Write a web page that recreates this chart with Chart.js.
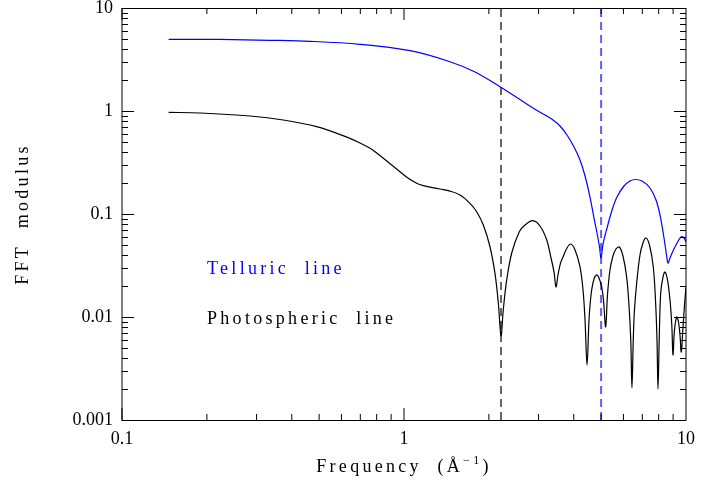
<!DOCTYPE html>
<html>
<head>
<meta charset="utf-8">
<script src="https://cdn.jsdelivr.net/npm/chart.js@4.4.1/dist/chart.umd.min.js"></script>
<style>
  html, body { margin: 0; padding: 0; background: #fff; }
  #wrap { width: 725px; height: 481px; }
</style>
</head>
<body>
<div id="wrap"><canvas id="fft" width="725" height="481"></canvas></div>
<script>
// values
const telluricFreq = [0.1464, 0.2226, 0.3347, 0.464, 0.698, 1.05, 1.456, 1.786, 2.19, 2.578,
  2.867, 3.162, 3.376, 3.574, 3.784, 4.008, 4.209, 4.385, 4.566, 4.718, 4.836, 4.935, 4.996,
  5.078, 5.248, 5.467, 5.692, 6.027, 6.329, 6.594, 6.982, 7.453, 7.828, 8.087, 8.356, 8.529,
  8.635, 8.775, 8.993, 9.292, 9.6, 9.838, 10.0];
const telluricFFT = [4.97, 4.95, 4.86, 4.75, 4.44, 3.85, 3.01, 2.39, 1.721, 1.293,
  1.069, 0.915, 0.818, 0.715, 0.585, 0.447, 0.334, 0.234, 0.146, 0.0914, 0.0654, 0.0478, 0.0374,
  0.0511, 0.0731, 0.1094, 0.146, 0.187, 0.209, 0.2163, 0.209, 0.1788, 0.1367, 0.0978, 0.0585, 0.040,
  0.0334, 0.0374, 0.0437, 0.0523, 0.0598, 0.0585, 0.0535];

const photoFreq = [0.1464, 0.189, 0.2844, 0.3733, 0.49, 0.643, 0.698, 0.758, 0.8, 0.845, 0.968,
  1.0357, 1.109, 1.171, 1.236, 1.342, 1.456, 1.58, 1.714, 1.81, 1.911, 2.018, 2.102, 2.161, 2.208,
  2.249, 2.313, 2.41, 2.564,
  2.686, 2.861, 3.036, 3.207, 3.322, 3.404, 3.459, 3.516, 3.589, 3.663, 3.784, 3.901, 4.042,
  4.209, 4.314, 4.385, 4.457, 4.529, 4.585, 4.63, 4.718, 4.823, 4.915, 5.024, 5.098, 5.19,
  5.267, 5.375, 5.508, 5.646, 5.8, 5.977, 6.16, 6.277, 6.37, 6.432, 6.501, 6.565, 6.685,
  6.868, 7.038, 7.214, 7.422, 7.656, 7.795, 7.892, 7.956, 8.035, 8.133, 8.287, 8.423, 8.597,
  8.775, 8.905, 8.993, 9.103, 9.268, 9.406, 9.521, 9.623, 9.743, 9.879, 10.0];
const photoFFT = [0.971, 0.956, 0.894, 0.818, 0.704, 0.543, 0.489, 0.4345, 0.391, 0.3473, 0.2574,
  0.222, 0.1987, 0.1883, 0.1826, 0.1748, 0.167, 0.153, 0.127, 0.1053, 0.0782, 0.0481, 0.02656, 0.01358, 0.0066,
  0.0117, 0.0229, 0.0418, 0.0673,
  0.0782, 0.0861, 0.0765, 0.0559, 0.0374, 0.0273, 0.01955, 0.0256, 0.0334, 0.0382, 0.0468, 0.0511, 0.0447,
  0.0306, 0.0183, 0.00935, 0.00342, 0.00935, 0.01462, 0.0183, 0.0234, 0.0256, 0.0239, 0.01955, 0.01462, 0.0080,
  0.01636, 0.0286, 0.0391, 0.0457, 0.0478, 0.0391, 0.0244, 0.01307, 0.00598, 0.00205, 0.00598, 0.0117, 0.0214,
  0.040, 0.0523, 0.0585, 0.050, 0.0306, 0.01462, 0.00598, 0.0020, 0.00598, 0.0171, 0.0244, 0.0273, 0.0229,
  0.01462, 0.00836, 0.00428, 0.00748, 0.0100, 0.00894, 0.00669, 0.00457, 0.00748, 0.01307, 0.01955];

const photoCutoff = 2.208;
const telluricCutoff = 5.0;

const xTickLabels = ['0.1', '1', '10'];
const yTickLabels = ['0.001', '0.01', '0.1', '1', '10'];

const FONT = 'Liberation Serif';

function pairs(xs, ys) {
  return xs.map((x, i) => ({ x: x, y: ys[i] }));
}
function vline(x) {
  return [{ x: x, y: +yTickLabels[0] }, { x: x, y: +yTickLabels[yTickLabels.length - 1] }];
}

// inward ticks on all four sides, frame, and the texts
const framePlugin = {
  id: 'frame',
  afterDraw(chart) {
    const ctx = chart.ctx;
    const a = chart.chartArea;
    const xs = chart.scales.x, ys = chart.scales.y;
    ctx.save();
    ctx.strokeStyle = '#000';
    ctx.lineWidth = 1;
    ctx.strokeRect(a.left, a.top + 0.5, a.right - a.left, a.bottom - a.top);

    ctx.beginPath();
    for (let d = xs.min; d < xs.max * 0.999; d *= 10) {
      for (let m = 1; m <= 9; m++) {
        const px = xs.getPixelForValue(m * d);
        const len = m === 1 ? 12 : 6;
        ctx.moveTo(px, a.bottom); ctx.lineTo(px, a.bottom - len);
        ctx.moveTo(px, a.top); ctx.lineTo(px, a.top + len);
      }
    }
    for (let d = ys.min; d < ys.max * 0.999; d *= 10) {
      for (let m = 1; m <= 9; m++) {
        const py = Math.round(ys.getPixelForValue(m * d)) + 0.5;
        const len = m === 1 ? 12 : 6;
        ctx.moveTo(a.left, py); ctx.lineTo(a.left + len, py);
        ctx.moveTo(a.right, py); ctx.lineTo(a.right - len, py);
      }
    }
    ctx.stroke();

    ctx.font = '18px "' + FONT + '"';
    ctx.letterSpacing = '3.3px';
    ctx.textBaseline = 'alphabetic';
    ctx.textAlign = 'left';
    ctx.fillStyle = '#0000ff';
    ctx.fillText('Telluric  line', 207, 274);
    ctx.fillStyle = '#000';
    ctx.fillText('Photospheric  line', 207, 324);

    // y title
    ctx.save();
    ctx.translate(28, 214);
    ctx.rotate(-Math.PI / 2);
    ctx.textAlign = 'center';
    ctx.fillText('FFT  modulus', 0, 0);
    ctx.restore();

    // x title with superscript
    const main = 'Frequency  (\u00c5';
    ctx.font = '18px "' + FONT + '"';
    const w1 = ctx.measureText(main).width;
    ctx.font = '12px "' + FONT + '"';
    const sup = '\u22121';
    const w2 = ctx.measureText(sup).width;
    ctx.font = '18px "' + FONT + '"';
    const w3 = ctx.measureText(')').width;
    let x0 = (a.left + a.right) / 2 - (w1 + w2 + w3) / 2;
    ctx.fillText(main, x0, 472);
    ctx.font = '12px "' + FONT + '"';
    ctx.fillText(sup, x0 + w1, 464);
    ctx.font = '18px "' + FONT + '"';
    ctx.fillText(')', x0 + w1 + w2, 472);
    ctx.restore();
  }
};

new Chart(document.getElementById('fft'), {
  type: 'line',
  data: {
    datasets: [
      {
        label: 'Telluric line',
        data: pairs(telluricFreq, telluricFFT),
        borderColor: '#0000ff',
        borderWidth: 1.2,
        pointRadius: 0,
        tension: 0.35
      },
      {
        label: 'Photospheric line',
        data: pairs(photoFreq, photoFFT),
        borderColor: '#000000',
        borderWidth: 1.2,
        pointRadius: 0,
        tension: 0.35
      },
      {
        label: 'photospheric cutoff',
        data: vline(photoCutoff),
        borderColor: '#000000',
        borderWidth: 1.2,
        borderDash: [8, 5],
        pointRadius: 0,
        tension: 0
      },
      {
        label: 'telluric cutoff',
        data: vline(telluricCutoff),
        borderColor: '#5f5fff',
        borderWidth: 2,
        borderDash: [8, 5],
        pointRadius: 0,
        tension: 0
      }
    ]
  },
  options: {
    responsive: false,
    animation: false,
    devicePixelRatio: 1,
    layout: { padding: { top: 8, right: 39, left: 0, bottom: 0 } },
    plugins: {
      legend: { display: false },
      tooltip: { enabled: false }
    },
    scales: {
      x: {
        type: 'logarithmic',
        min: +xTickLabels[0],
        max: +xTickLabels[xTickLabels.length - 1],
        afterBuildTicks: (s) => { s.ticks = xTickLabels.map(v => ({ value: +v })); },
        afterFit: (s) => { s.height = 61; s.paddingLeft = 0; s.paddingRight = 0; },
        grid: { display: false, drawTicks: false },
        border: { display: false },
        ticks: {
          callback: (v) => xTickLabels.find(t => +t === v) || '',
          color: '#000',
          font: { family: FONT, size: 18 },
          padding: 8,
          maxRotation: 0,
          autoSkip: false
        }
      },
      y: {
        type: 'logarithmic',
        min: +yTickLabels[0],
        max: +yTickLabels[yTickLabels.length - 1],
        afterBuildTicks: (s) => { s.ticks = yTickLabels.map(v => ({ value: +v })); },
        afterFit: (s) => { s.width = 122; s.paddingTop = 0; s.paddingBottom = 0; },
        grid: { display: false, drawTicks: false },
        border: { display: false },
        ticks: {
          callback: (v) => yTickLabels.find(t => +t === v) || '',
          color: '#000',
          font: { family: FONT, size: 18 },
          padding: 9,
          autoSkip: false
        }
      }
    }
  },
  plugins: [framePlugin]
});
</script>
</body>
</html>
